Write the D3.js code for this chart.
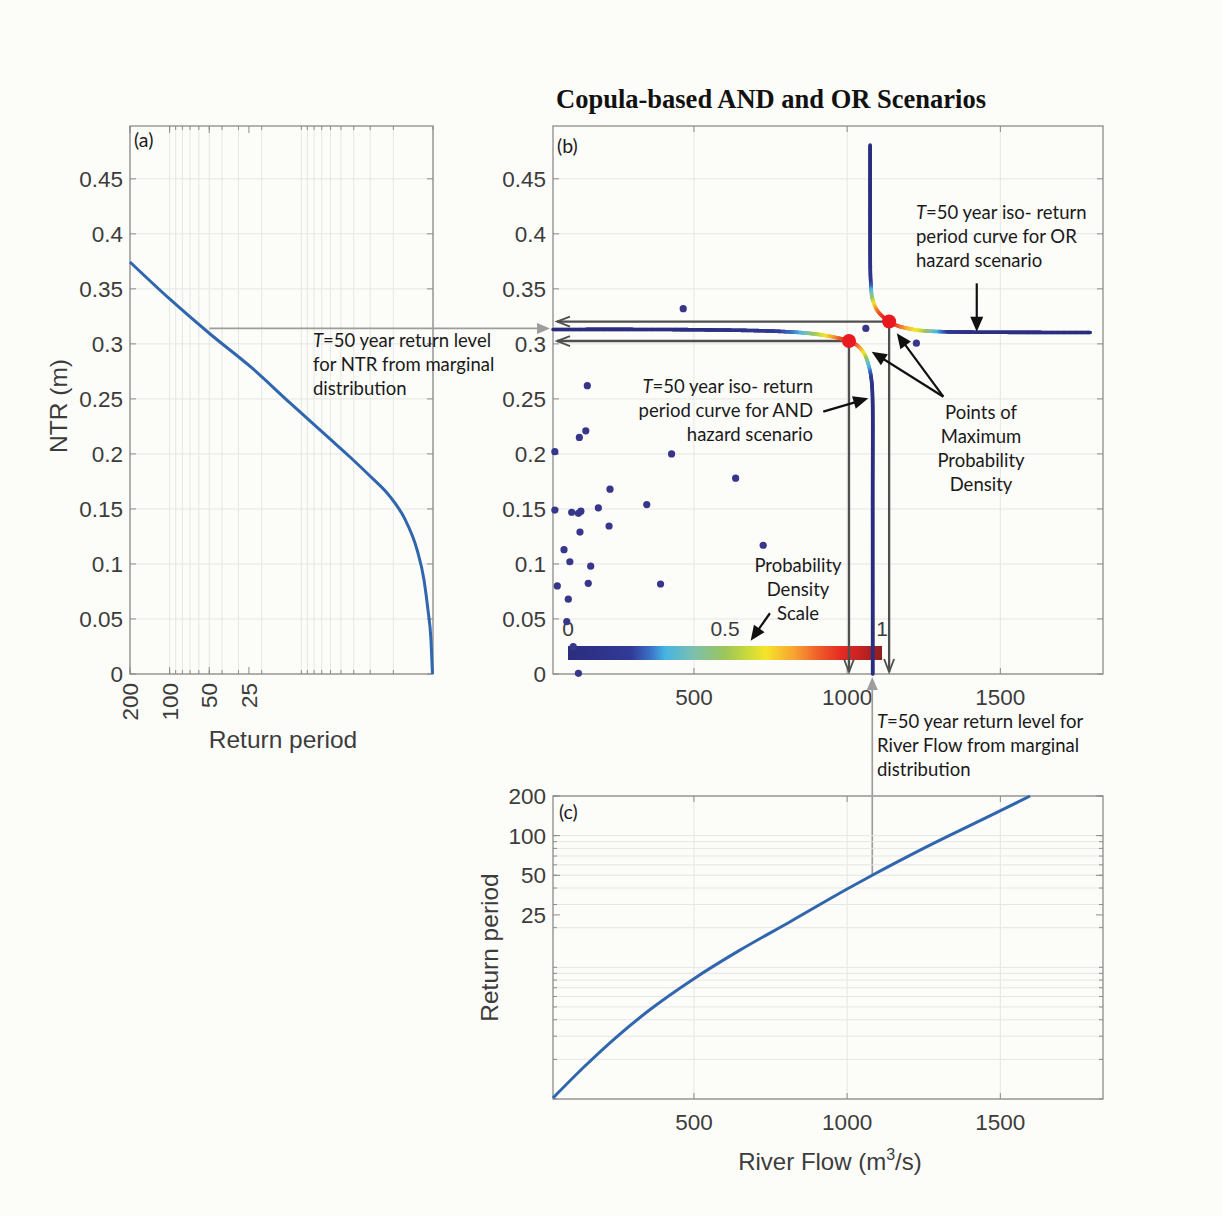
<!DOCTYPE html>
<html><head><meta charset="utf-8">
<script src="https://cdn.jsdelivr.net/npm/d3@7"></script>
<style>
html,body{margin:0;padding:0;background:#fcfcf9;}
svg{display:block;}
</style></head><body>
<svg id="chart" width="1222" height="1216"></svg>
<script>
// ---------------- DATA ----------------
// Panel (a): marginal return level curve of NTR
const ntrReturnPeriod = [200, 100, 48.5, 23.7, 12.19, 6.06, 4.27, 3.01, 2.12, 1.63, 1.32, 1.17, 1.092, 1.036, 1.009];
const ntrReturnLevel  = [0.3744, 0.3408, 0.3083, 0.2781, 0.2463, 0.2136, 0.1972, 0.1799, 0.1612, 0.1405, 0.1127, 0.0854, 0.0582, 0.0309, 0.0];

// Panel (c): marginal return period curve of river flow
const flowReturnFlow   = [40, 141, 249, 357, 500, 650, 814, 1000, 1082, 1254, 1499, 1597];
const flowReturnPeriod = [1.018, 1.75, 2.98, 4.78, 8.2, 13.5, 22.2, 39.3, 50, 81, 154, 200];

// Panel (b): observed events
const obsFlow = [465, 1061, 1226, 152, 147, 126, 46, 427, 636, 226, 346, 46, 188, 101, 123, 131, 223, 128, 726, 76, 95, 163, 54, 155, 391, 90, 85, 106, 123];
const obsNTR  = [0.332, 0.314, 0.3006, 0.262, 0.221, 0.215, 0.202, 0.200, 0.178, 0.168, 0.154, 0.149, 0.151, 0.147, 0.146, 0.148, 0.1345, 0.129, 0.117, 0.113, 0.102, 0.098, 0.080, 0.0824, 0.0818, 0.068, 0.0476, 0.025, 0.0006];

// AND iso-return-period curve (T = 50)
const andFlow    = [40, 357, 585, 748, 846, 895, 937, 977, 1006, 1029, 1045, 1058, 1068, 1076, 1081, 1083, 1083.2, 1083.3];
const andNTR     = [0.3131, 0.3131, 0.3126, 0.3117, 0.3103, 0.3090, 0.3072, 0.3049, 0.3026, 0.2994, 0.2953, 0.2899, 0.2826, 0.2735, 0.2626, 0.2490, 0.1581, 0];
const andDensity = [0, 0.02, 0.05, 0.15, 0.3, 0.5, 0.65, 0.8, 0.9, 0.82, 0.72, 0.6, 0.38, 0.25, 0.12, 0.04, 0.01, 0];

// OR iso-return-period curve (T = 50)
const orFlow    = [1075, 1075.2, 1076, 1078, 1081, 1088, 1097, 1114, 1137, 1166, 1199, 1238, 1287, 1352, 1434, 1793];
const orNTR     = [0.4807, 0.3853, 0.3626, 0.3517, 0.3426, 0.3362, 0.3308, 0.3254, 0.3203, 0.3163, 0.3140, 0.3122, 0.3113, 0.3108, 0.3106, 0.3103];
const orDensity = [0, 0.02, 0.12, 0.25, 0.45, 0.62, 0.75, 0.85, 0.9, 0.82, 0.7, 0.6, 0.35, 0.12, 0.04, 0];

// Points of maximum probability density [AND, OR]
const maxFlow = [1006, 1137];
const maxNTR  = [0.3026, 0.3203];

// Marginal T = 50 return levels
const marginalT = 50;
const marginalNTR = 0.314;
const marginalFlow = 1082;

// Ticks
const ntrTicks = [0, 0.05, 0.1, 0.15, 0.2, 0.25, 0.3, 0.35, 0.4, 0.45];
const flowTicks = [500, 1000, 1500];
const returnTicks = [200, 100, 50, 25];
const logGrid = [1, 2, 3, 4, 5, 6, 7, 8, 9, 10, 20, 30, 40, 50, 60, 70, 80, 90, 100, 200];
const cbarTicks = [0, 0.5, 1];

// Colormap (probability density scale)
const cmapPos = [0, 0.2, 0.26, 0.31, 0.4, 0.5, 0.57, 0.63, 0.72, 0.8, 0.87, 0.93, 1];
const cmapCol = ['#2b2d7e', '#313a97', '#3b6ec4', '#46b5e2', '#7cbfae', '#9cc65a', '#c9d93a', '#f6e42a', '#f6a431', '#ef5b2a', '#e42b23', '#c82222', '#8e1d1d'];

// ---------------- STYLE ----------------
const BOX = '#8c8c8c', GRID = '#e6e6e4', TICKTXT = '#3c3c3c';
const tickFont = '"Liberation Sans", Arial, sans-serif';
const annFont = 'Lato, "Open Sans", sans-serif';
const serifFont = '"Liberation Serif", "Times New Roman", serif';
const CURVE_BLUE = '#2f66ad';

const svg = d3.select('#chart');
svg.append('rect').attr('width', 1222).attr('height', 1216).attr('fill', '#fcfcf9');

// ---------------- SCALES ----------------
const yNTR = d3.scaleLinear().domain([0, 0.498]).range([674, 126]);
const xRetA = d3.scaleLog().domain([200, 1]).range([130, 433]);
const xFlow = d3.scaleLinear().domain([40, 1835]).range([553, 1103]);
const yRetC = d3.scaleLog().domain([1, 200]).range([1099, 796]);
const densityColor = d3.scaleLinear().domain(cmapPos).range(cmapCol).interpolate(d3.interpolateRgb);

const fmtNTR = v => String(+v.toFixed(2));

function frame(g, x0, x1, y0, y1) {
  g.append('rect').attr('x', x0).attr('y', y1).attr('width', x1 - x0).attr('height', y0 - y1)
    .attr('fill', 'none').attr('stroke', BOX).attr('stroke-width', 1.3);
}
function hLines(g, ys, x0, x1, color, w) {
  ys.forEach(y => g.append('line').attr('x1', x0).attr('x2', x1).attr('y1', y).attr('y2', y)
    .attr('stroke', color).attr('stroke-width', w || 1));
}
function vLines(g, xs, y0, y1, color, w) {
  xs.forEach(x => g.append('line').attr('x1', x).attr('x2', x).attr('y1', y0).attr('y2', y1)
    .attr('stroke', color).attr('stroke-width', w || 1));
}
function yTicksMarks(g, ys, x0, x1, len) {
  ys.forEach(y => {
    g.append('line').attr('x1', x0).attr('x2', x0 + len).attr('y1', y).attr('y2', y).attr('stroke', BOX);
    g.append('line').attr('x1', x1).attr('x2', x1 - len).attr('y1', y).attr('y2', y).attr('stroke', BOX);
  });
}
function xTicksMarks(g, xs, y0, y1, len) {
  xs.forEach(x => {
    g.append('line').attr('x1', x).attr('x2', x).attr('y1', y0).attr('y2', y0 - len).attr('stroke', BOX);
    g.append('line').attr('x1', x).attr('x2', x).attr('y1', y1).attr('y2', y1 + len).attr('stroke', BOX);
  });
}
function arrow(g, x1, y1, x2, y2, o) {
  const ang = Math.atan2(y2 - y1, x2 - x1);
  const bx = x2 - o.len * Math.cos(ang), by = y2 - o.len * Math.sin(ang);
  const px = -Math.sin(ang) * o.hw, py = Math.cos(ang) * o.hw;
  if (o.filled) {
    g.append('line').attr('x1', x1).attr('y1', y1).attr('x2', bx + o.len * 0.3 * Math.cos(ang)).attr('y2', by + o.len * 0.3 * Math.sin(ang))
      .attr('stroke', o.color).attr('stroke-width', o.width);
    g.append('path').attr('d', `M${x2},${y2}L${bx + px},${by + py}L${bx - px},${by - py}Z`).attr('fill', o.color);
  } else {
    g.append('line').attr('x1', x1).attr('y1', y1).attr('x2', x2).attr('y2', y2)
      .attr('stroke', o.color).attr('stroke-width', o.width);
    g.append('path').attr('d', `M${bx + px},${by + py}L${x2},${y2}L${bx - px},${by - py}`)
      .attr('fill', 'none').attr('stroke', o.color).attr('stroke-width', o.width * 0.8);
  }
}
function textLines(g, x, y0, lh, lines, anchor) {
  const t = g.append('text').attr('font-family', annFont).attr('font-size', 18.5).attr('fill', '#1a1a1a')
    .attr('text-anchor', anchor || 'start');
  lines.forEach((ln, i) => {
    const ts = t.append('tspan').attr('x', x).attr('y', y0 + i * lh);
    if (ln.startsWith('T=')) {
      ts.append('tspan').attr('font-style', 'italic').text('T');
      ts.append('tspan').text(ln.slice(1));
    } else ts.text(ln);
  });
}
function densityCurve(g, flows, ntrs, dens) {
  const pts = flows.map((f, i) => [xFlow(f), yNTR(ntrs[i])]);
  const gen = d3.line().curve(d3.curveCatmullRom.alpha(0.5));
  const tmp = g.append('path').attr('d', gen(pts)).attr('fill', 'none').attr('stroke', 'none');
  const node = tmp.node();
  const L = node.getTotalLength();
  const cum = [0];
  for (let i = 1; i < pts.length; i++) cum.push(cum[i - 1] + Math.hypot(pts[i][0] - pts[i - 1][0], pts[i][1] - pts[i - 1][1]));
  const k = L / cum[cum.length - 1];
  const dAt = d3.scaleLinear().domain(cum.map(c => c * k)).range(dens).clamp(true);
  const step = 1.2;
  let prev = node.getPointAtLength(0);
  for (let s = step; s < L + step; s += step) {
    const ss = Math.min(s, L);
    const p = node.getPointAtLength(ss);
    g.append('line').attr('x1', prev.x).attr('y1', prev.y).attr('x2', p.x).attr('y2', p.y)
      .attr('stroke', densityColor(dAt(ss - step / 2))).attr('stroke-width', 3.6).attr('stroke-linecap', 'round');
    prev = p;
  }
  tmp.remove();
}

// ================= PANEL (a) =================
const gA = svg.append('g');
{
  const [x0, x1] = xRetA.range(); const [y0, y1] = yNTR.range();
  hLines(gA, ntrTicks.map(yNTR), x0, x1, GRID);
  vLines(gA, logGrid.filter(v => v <= 200 && v >= 1).map(xRetA), y0, y1, GRID);
  frame(gA, x0, x1, y0, y1);
  yTicksMarks(gA, ntrTicks.map(yNTR), x0, x1, 6);
  xTicksMarks(gA, logGrid.map(xRetA), y0, y1, 4);
  xTicksMarks(gA, returnTicks.map(xRetA), y0, y1, 7);
  ntrTicks.forEach(v => gA.append('text').attr('x', x0 - 7).attr('y', yNTR(v)).attr('dy', '0.36em')
    .attr('text-anchor', 'end').attr('font-family', tickFont).attr('font-size', 22.5).attr('fill', TICKTXT).text(fmtNTR(v)));
  returnTicks.forEach(v => gA.append('text')
    .attr('transform', `translate(${xRetA(v) + 8},${y0 + 9}) rotate(-90)`)
    .attr('text-anchor', 'end').attr('font-family', tickFont).attr('font-size', 22.5).attr('fill', TICKTXT).text(v));
  const line = d3.line().x(d => xRetA(d[0])).y(d => yNTR(d[1])).curve(d3.curveMonotoneX);
  gA.append('path').attr('d', line(ntrReturnPeriod.map((t, i) => [t, ntrReturnLevel[i]])))
    .attr('fill', 'none').attr('stroke', CURVE_BLUE).attr('stroke-width', 3);
  gA.append('text').attr('transform', `translate(67,${(y0 + y1) / 2 + 6}) rotate(-90)`).attr('text-anchor', 'middle')
    .attr('font-family', tickFont).attr('font-size', 24.5).attr('fill', TICKTXT).text('NTR (m)');
  gA.append('text').attr('x', 283).attr('y', 748).attr('text-anchor', 'middle')
    .attr('font-family', tickFont).attr('font-size', 24.5).attr('fill', TICKTXT).text('Return period');
  gA.append('text').attr('x', x0 + 4).attr('y', 147).attr('font-family', annFont).attr('font-size', 19.5).attr('fill', '#1a1a1a').text('(a)');
}

// ================= PANEL (b) =================
const gB = svg.append('g');
{
  const [x0, x1] = xFlow.range(); const [y0, y1] = yNTR.range();
  hLines(gB, ntrTicks.map(yNTR), x0, x1, GRID);
  vLines(gB, flowTicks.map(xFlow), y0, y1, GRID);
  frame(gB, x0, x1, y0, y1);
  yTicksMarks(gB, ntrTicks.map(yNTR), x0, x1, 6);
  xTicksMarks(gB, flowTicks.map(xFlow), y0, y1, 6);
  ntrTicks.forEach(v => gB.append('text').attr('x', x0 - 7).attr('y', yNTR(v)).attr('dy', '0.36em')
    .attr('text-anchor', 'end').attr('font-family', tickFont).attr('font-size', 22.5).attr('fill', TICKTXT).text(fmtNTR(v)));
  flowTicks.forEach(v => gB.append('text').attr('x', xFlow(v)).attr('y', y0 + 31)
    .attr('text-anchor', 'middle').attr('font-family', tickFont).attr('font-size', 22.5).attr('fill', TICKTXT).text(v));
  svg.append('text').attr('x', 771).attr('y', 108).attr('text-anchor', 'middle').attr('font-family', serifFont)
    .attr('font-weight', 'bold').attr('font-size', 26.5).attr('fill', '#111').text('Copula-based AND and OR Scenarios');
  gB.append('text').attr('x', x0 + 4).attr('y', 153).attr('font-family', annFont).attr('font-size', 19.5).attr('fill', '#1a1a1a').text('(b)');

  // colorbar
  const cb = d3.scaleLinear().domain([0, 1]).range([568, 882]);
  const grad = svg.append('defs').append('linearGradient').attr('id', 'cbar').attr('x1', '0%').attr('x2', '100%');
  cmapPos.forEach((p, i) => grad.append('stop').attr('offset', (p * 100) + '%').attr('stop-color', cmapCol[i]));
  gB.append('rect').attr('x', cb(0)).attr('y', 646).attr('width', cb(1) - cb(0)).attr('height', 14).attr('fill', 'url(#cbar)');
  cbarTicks.forEach(v => gB.append('text').attr('x', cb(v)).attr('y', 636).attr('text-anchor', 'middle')
    .attr('font-family', tickFont).attr('font-size', 21).attr('fill', TICKTXT).text(v));

  // scatter
  obsFlow.forEach((f, i) => gB.append('circle').attr('cx', xFlow(f)).attr('cy', yNTR(obsNTR[i])).attr('r', 3.6).attr('fill', '#37368a'));

  // dark grey arrows from points of max density to axes
  maxFlow.forEach((f, i) => {
    const px = xFlow(f), py = yNTR(maxNTR[i]);
    arrow(gB, px, py, x0 + 4, py, { color: '#4f4f4f', width: 2.3, len: 13, hw: 5, filled: false });
    arrow(gB, px, py, px, y0 - 2, { color: '#4f4f4f', width: 2.3, len: 13, hw: 5, filled: false });
  });

  // light grey arrows from marginal distributions
  arrow(svg, xRetA(marginalT), yNTR(marginalNTR), x0 - 3, yNTR(marginalNTR), { color: '#9d9d9d', width: 1.7, len: 13, hw: 5.5, filled: true });
  arrow(svg, xFlow(marginalFlow), yRetC(marginalT), xFlow(marginalFlow), y0 + 3, { color: '#9d9d9d', width: 1.7, len: 13, hw: 5.5, filled: true });

  // iso-return-period curves coloured by density
  densityCurve(gB, andFlow, andNTR, andDensity);
  densityCurve(gB, orFlow, orNTR, orDensity);

  // max density points
  maxFlow.forEach((f, i) => gB.append('circle').attr('cx', xFlow(f)).attr('cy', yNTR(maxNTR[i])).attr('r', 7).attr('fill', '#e8191f'));

  // annotations
  const blk = { color: '#111', width: 2.2, len: 15, hw: 6.5, filled: true };
  arrow(gB, xFlow(1423), yNTR(0.355), xFlow(1423), yNTR(0.311), blk);
  arrow(gB, xFlow(922), yNTR(0.2384), xFlow(1069), yNTR(0.2505), blk);
  arrow(gB, xFlow(1314), yNTR(0.252), xFlow(1080), yNTR(0.2929), blk);
  arrow(gB, xFlow(1314), yNTR(0.252), xFlow(1162), yNTR(0.3096), blk);
  arrow(gB, xFlow(748), yNTR(0.0552), xFlow(685), yNTR(0.0303), blk);

  textLines(svg, 313, 347, 24, ['T=50 year return level', 'for NTR from marginal', 'distribution'], 'start');
  textLines(svg, 916, 219, 24, ['T=50 year iso- return', 'period curve for OR', 'hazard scenario'], 'start');
  textLines(svg, 813, 393, 24, ['T=50 year iso- return', 'period curve for AND', 'hazard scenario'], 'end');
  textLines(svg, 981, 419, 24, ['Points of', 'Maximum', 'Probability', 'Density'], 'middle');
  textLines(svg, 798, 572, 24, ['Probability', 'Density', 'Scale'], 'middle');
  textLines(svg, 877, 728, 24, ['T=50 year return level for', 'River Flow from marginal', 'distribution'], 'start');
}

// ================= PANEL (c) =================
const gC = svg.append('g');
{
  const [x0, x1] = xFlow.range(); const [y0, y1] = yRetC.range();
  hLines(gC, logGrid.map(yRetC), x0, x1, GRID);
  vLines(gC, flowTicks.map(xFlow), y0, y1, GRID);
  frame(gC, x0, x1, y0, y1);
  yTicksMarks(gC, logGrid.map(yRetC), x0, x1, 4);
  yTicksMarks(gC, returnTicks.map(yRetC), x0, x1, 7);
  xTicksMarks(gC, flowTicks.map(xFlow), y0, y1, 6);
  returnTicks.forEach(v => gC.append('text').attr('x', x0 - 7).attr('y', yRetC(v)).attr('dy', '0.36em')
    .attr('text-anchor', 'end').attr('font-family', tickFont).attr('font-size', 22.5).attr('fill', TICKTXT).text(v));
  flowTicks.forEach(v => gC.append('text').attr('x', xFlow(v)).attr('y', y0 + 31)
    .attr('text-anchor', 'middle').attr('font-family', tickFont).attr('font-size', 22.5).attr('fill', TICKTXT).text(v));
  const line = d3.line().x(d => xFlow(d[0])).y(d => yRetC(d[1])).curve(d3.curveMonotoneX);
  gC.append('path').attr('d', line(flowReturnFlow.map((f, i) => [f, flowReturnPeriod[i]])))
    .attr('fill', 'none').attr('stroke', CURVE_BLUE).attr('stroke-width', 3);
  gC.append('text').attr('transform', `translate(498,${(y0 + y1) / 2}) rotate(-90)`).attr('text-anchor', 'middle')
    .attr('font-family', tickFont).attr('font-size', 24.5).attr('fill', TICKTXT).text('Return period');
  const xl = gC.append('text').attr('x', 830).attr('y', 1170).attr('text-anchor', 'middle')
    .attr('font-family', tickFont).attr('font-size', 24).attr('fill', TICKTXT);
  xl.append('tspan').text('River Flow (m');
  xl.append('tspan').attr('font-size', 16).attr('dy', -10).text('3');
  xl.append('tspan').attr('dy', 10).text('/s)');
  gC.append('text').attr('x', x0 + 6).attr('y', 819).attr('font-family', annFont).attr('font-size', 19.5).attr('fill', '#1a1a1a').text('(c)');
}
</script></body></html>
